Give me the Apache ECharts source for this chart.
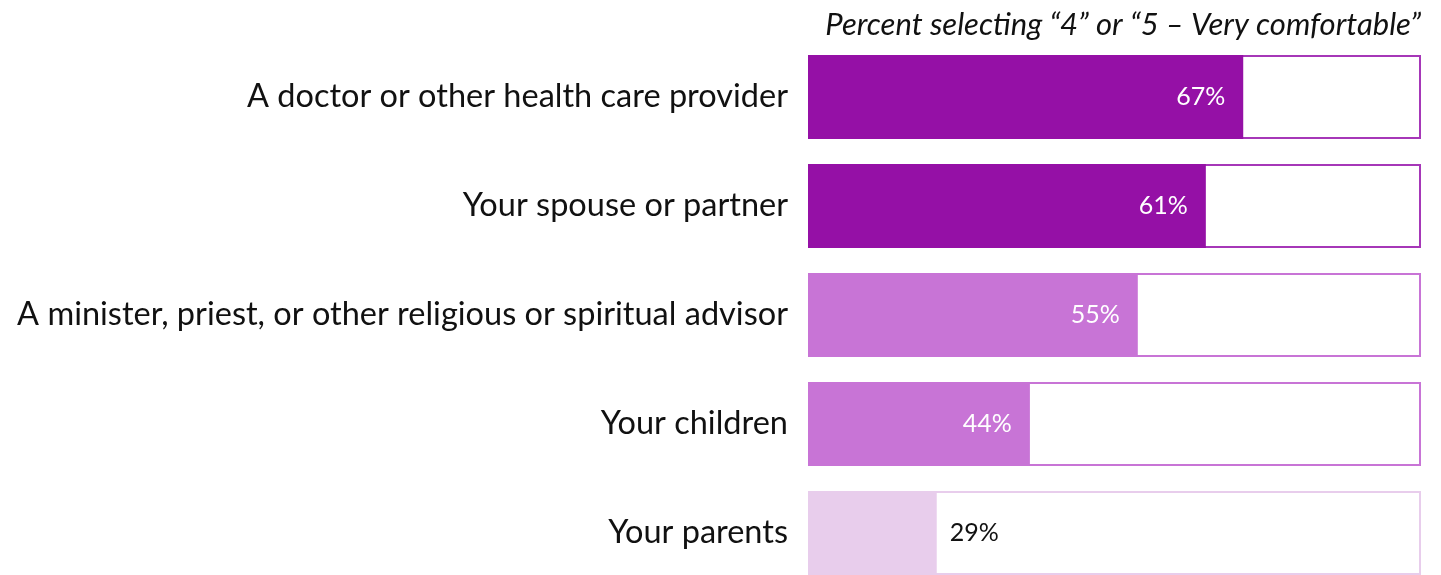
<!DOCTYPE html>
<html><head><meta charset="utf-8">
<script src="https://cdn.jsdelivr.net/npm/echarts@6/dist/echarts.min.js"></script>
<style>html,body{margin:0;padding:0;background:#fff}#c{width:1441px;height:575px}</style>
</head><body><div id="c"></div>
<script>
const categories = ["A doctor or other health care provider","Your spouse or partner","A minister, priest, or other religious or spiritual advisor","Your children","Your parents"];
const barLengths = [71, 64.9, 53.8, 36.2, 21];
const valueLabels = ["67%","61%","55%","44%","29%"];
const fillColors = ["#9510A6","#9510A6","#C874D6","#C874D6","#E8CDEC"];
const borderColors = ["#A637B8","#A637B8","#C874D6","#C874D6","#E8CDEC"];
const labelInside = [true, true, true, true, false];
const titleText = "Percent selecting \u201C4\u201D or \u201C5 \u2013 Very comfortable\u201D";

const chart = echarts.init(document.getElementById('c'), null, {renderer:'canvas'});
const font = "Lato, 'Open Sans', sans-serif";
chart.setOption({
  animation:false,
  title:{text:titleText,right:15,top:4,textStyle:{fontFamily:font,fontStyle:'italic',fontWeight:'normal',fontSize:31,color:'#111'}},
  grid:{left:808,right:20,top:42.5,bottom:-12.5,outerBoundsMode:'none',containLabel:false},
  xAxis:{type:'value',min:0,max:100,show:false},
  yAxis:{type:'category',data:categories,inverse:true,axisLine:{show:false},axisTick:{show:false},
    axisLabel:{margin:20,fontFamily:font,fontSize:32.5,color:'#111'}},
  series:[
    {type:'bar',barWidth:84,silent:true,
     data:categories.map((c,i)=>({value:100,itemStyle:{color:'#fff',borderColor:borderColors[i],borderWidth:2}}))},
    {type:'bar',barWidth:84,barGap:'-100%',
     data:barLengths.map((v,i)=>({value:v,itemStyle:{color:fillColors[i]},
       label:{show:true,formatter:valueLabels[i],position:labelInside[i]?'insideRight':'right',
         distance:labelInside[i]?18:13,color:labelInside[i]?'#fff':'#111',fontFamily:font,fontSize:25}}))}
  ]
});
</script></body></html>
